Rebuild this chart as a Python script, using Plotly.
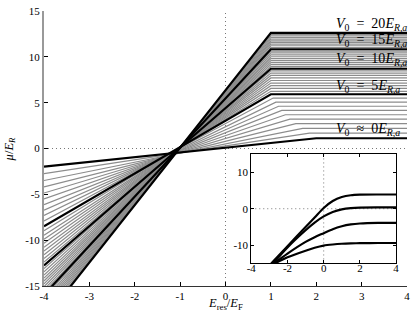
import plotly.graph_objects as go

# ---------------- data ----------------
V0 = [0, 0.5, 1, 1.5, 2, 2.5, 3, 3.5, 4, 4.5,
      5, 5.5, 6, 6.5, 7, 7.5, 8, 8.5, 9, 9.5,
      10, 10.5, 11, 11.5, 12, 12.5, 13, 13.5, 14, 14.5,
      15, 15.5, 16, 16.5, 17, 17.5, 18, 18.5, 19, 19.5, 20]

# mu/E_R value at E_res/E_F = -4 (left edge, may lie below the axis range)
mu_left = [-1.97, -2.75, -3.49, -4.19, -4.86, -5.50, -6.12, -6.72, -7.31, -7.90,
           -8.48, -8.98, -9.45, -9.90, -10.34, -10.77, -11.19, -11.60, -12.00, -12.38,
           -12.75, -13.11, -13.46, -13.80, -14.13, -14.45, -14.77, -15.08, -15.38, -15.67,
           -15.96, -16.26, -16.55, -16.83, -17.11, -17.38, -17.65, -17.92, -18.18, -18.44,
           -18.70]

# E_res/E_F where the curve becomes flat
knee = [2.0, 1.85, 1.7, 1.55, 1.42, 1.32, 1.24, 1.17, 1.11, 1.05,
        1.0, 1.0, 1.0, 1.0, 1.0, 1.0, 1.0, 1.0, 1.0, 1.0,
        1.0, 1.0, 1.0, 1.0, 1.0, 1.0, 1.0, 1.0, 1.0, 1.0,
        1.0, 1.0, 1.0, 1.0, 1.0, 1.0, 1.0, 1.0, 1.0, 1.0,
        1.0]

# plateau value of mu/E_R
plateau = [1.12, 1.67, 2.20, 2.71, 3.20, 3.68, 4.15, 4.61, 5.06, 5.50,
           5.92, 6.24, 6.55, 6.85, 7.14, 7.42, 7.70, 7.97, 8.23, 8.47,
           8.70, 8.93, 9.15, 9.37, 9.59, 9.80, 10.01, 10.22, 10.43, 10.63,
           10.83, 11.02, 11.21, 11.39, 11.57, 11.75, 11.93, 12.11, 12.28, 12.45,
           12.62]

x_min, x_max = -4, 4

EQ = "&nbsp;=&nbsp;"
labels = ["<i>V</i><sub>0</sub> " + EQ + " 20<i>E</i><sub><i>R,a</i></sub>",
          "<i>V</i><sub>0</sub> " + EQ + " 15<i>E</i><sub><i>R,a</i></sub>",
          "<i>V</i><sub>0</sub> " + EQ + " 10<i>E</i><sub><i>R,a</i></sub>",
          "<i>V</i><sub>0</sub> " + EQ + " 5<i>E</i><sub><i>R,a</i></sub>",
          "<i>V</i><sub>0</sub> &nbsp;≈&nbsp; 0<i>E</i><sub><i>R,a</i></sub>"]
label_y = [13.5, 11.8, 9.66, 6.78, 2.08]
label_x = 2.4

main_xticks = [-4, -3, -2, -1, 0, 1, 2, 3, 4]
main_yticks = [-15, -10, -5, 0, 5, 10, 15]

# inset curves
inset_x = [
    [-2.9, -2, -1, -0.5, 0, 0.5, 1, 1.5, 2, 3, 4],
    [-2.8, -2, -1, -0.5, 0, 0.5, 1, 1.5, 2, 3, 4],
    [-2.75, -2, -1, -0.5, 0, 0.5, 1, 1.5, 2, 3, 4],
    [-2.7, -2, -1, -0.5, 0, 0.5, 1, 1.5, 2, 3, 4],
]
inset_y = [
    [-15, -10.3, -5.0, -2.4, 0.2, 2.1, 3.2, 3.7, 3.85, 3.9, 3.9],
    [-15, -10.6, -5.9, -3.8, -2.1, -0.9, -0.2, 0.15, 0.3, 0.35, 0.35],
    [-15, -12.3, -9.1, -7.8, -6.7, -5.6, -4.8, -4.3, -4.05, -3.9, -3.9],
    [-15, -13.3, -11.5, -10.7, -10.1, -9.8, -9.6, -9.5, -9.45, -9.4, -9.4],
]
inset_xticks = [-4, -2, 0, 2, 4]
inset_xticktext = ["-4", "-2", "0", "2", "4"]
inset_yticks = [-10, 0, 10]

# ---------------- figure ----------------
FONT = "Liberation Serif"
fig = go.Figure()

def curve(i):
    return [x_min, knee[i], x_max], [mu_left[i], plateau[i], plateau[i]]

for i, v in enumerate(V0):
    if v % 5 != 0:
        xs, ys = curve(i)
        fig.add_trace(go.Scatter(x=xs, y=ys, mode="lines",
                                 line=dict(color="#8c8c8c", width=1.2),
                                 showlegend=False, hoverinfo="skip"))
for i, v in enumerate(V0):
    if v % 5 == 0:
        xs, ys = curve(i)
        fig.add_trace(go.Scatter(x=xs, y=ys, mode="lines",
                                 line=dict(color="black", width=2.2),
                                 showlegend=False, hoverinfo="skip"))

for xs, ys in zip(inset_x, inset_y):
    fig.add_trace(go.Scatter(x=xs, y=ys, mode="lines", xaxis="x2", yaxis="y2",
                             line=dict(color="black", width=2.2, shape="spline", smoothing=0.8),
                             showlegend=False, hoverinfo="skip"))

# inset x tick labels as a text trace (keeps them in data coordinates of the inset)
fig.add_trace(go.Scatter(x=inset_xticks, y=[-15] * len(inset_xticks), mode="text",
                         text=inset_xticktext, textposition="bottom center",
                         textfont=dict(family=FONT, size=11, color="black"),
                         xaxis="x2", yaxis="y2", cliponaxis=False,
                         showlegend=False, hoverinfo="skip"))

dot = dict(color="#777777", width=1, dash="1px,3px")
shapes = [
    dict(type="line", xref="x", yref="y", x0=x_min, x1=x_max, y0=0, y1=0, line=dot, layer="below"),
    dict(type="line", xref="x", yref="y", x0=0, x1=0, y0=-15, y1=15, line=dot, layer="below"),
    dict(type="line", xref="x2", yref="y2", x0=-4, x1=4, y0=0, y1=0, line=dot, layer="below"),
    dict(type="line", xref="x2", yref="y2", x0=0, x1=0, y0=-15, y1=15, line=dot, layer="below"),
]

def fmt(v):
    return str(v).replace("−", "-")

annotations = []
for t, yv in zip(labels, label_y):
    annotations.append(dict(x=label_x, y=yv, xref="x", yref="y", text=t, showarrow=False,
                            xanchor="left", yanchor="middle",
                            font=dict(family=FONT, size=14, color="black")))
annotations.append(dict(x=0.5, y=-0.065, xref="paper", yref="paper",
                        text="<i>E</i><sub>res</sub>/<i>E</i><sub>F</sub>", showarrow=False,
                        xanchor="center", yanchor="middle",
                        font=dict(family=FONT, size=12.5, color="black")))
annotations.append(dict(x=-0.095, y=0.495, xref="paper", yref="paper",
                        text="<i>μ</i>/<i>E</i><sub><i>R</i></sub>", showarrow=False,
                        textangle=-90, xanchor="center", yanchor="middle",
                        font=dict(family=FONT, size=12.5, color="black")))

tickfont = dict(family=FONT, size=11, color="black")
fig.update_layout(
    width=415, height=319,
    margin=dict(l=44, r=5, t=5, b=33),
    paper_bgcolor="white", plot_bgcolor="white",
    shapes=shapes, annotations=annotations,
    xaxis=dict(range=[x_min, x_max], domain=[0, 1], tickvals=main_xticks,
               ticktext=[fmt(v) for v in main_xticks], ticks="inside", ticklen=4,
               tickcolor="black", showline=True, linecolor="#333333", linewidth=1,
               showgrid=False, zeroline=False, tickfont=tickfont, ticklabeloverflow="allow"),
    yaxis=dict(range=[-15, 15], domain=[0, 1], tickvals=main_yticks,
               ticktext=[fmt(v) for v in main_yticks], ticks="inside", ticklen=4,
               tickcolor="black", showline=True, linecolor="#999999", linewidth=2,
               showgrid=False, zeroline=False, tickfont=tickfont, ticklabeloverflow="allow"),
    xaxis2=dict(range=[-4, 4], domain=[0.571, 0.970], anchor="y2", tickvals=inset_xticks,
                showticklabels=False, ticks="inside", ticklen=3,
                tickcolor="black", showline=True, linecolor="black", linewidth=1, mirror="ticks",
                showgrid=False, zeroline=False),
    yaxis2=dict(range=[-15, 15], domain=[0.082, 0.480], anchor="x2", tickvals=inset_yticks,
                ticktext=[fmt(v) for v in inset_yticks], ticks="inside", ticklen=3,
                tickcolor="black", showline=True, linecolor="black", linewidth=1, mirror="ticks",
                showgrid=False, zeroline=False, tickfont=tickfont, ticklabeloverflow="allow"),
)

fig.write_html("out.html", config={"displayModeBar": False, "staticPlot": True},
               post_script="document.body.style.margin='0';document.body.style.padding='0';")
